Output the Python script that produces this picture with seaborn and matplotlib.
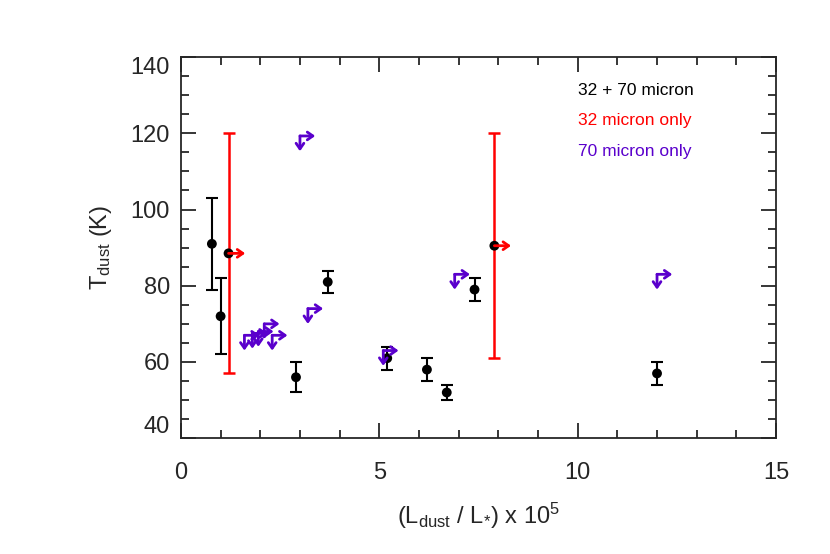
import matplotlib
matplotlib.use("Agg")
import matplotlib.pyplot as plt
import seaborn as sns
import pandas as pd

# 32 + 70 micron detections
both_L = [0.78, 1.0, 2.9, 3.7, 5.2, 6.2, 6.7, 7.4, 12.0]
both_T = [91, 72, 56, 81, 61, 58, 52, 79, 57]
both_err = [12, 10, 4, 3, 3, 3, 2, 3, 3]

# 32 micron only (lower limit on L)
red_L = [1.2, 7.9]
red_T = [88.5, 90.5]
red_err = [31.5, 29.5]

# 70 micron only (lower limit on L, upper limit on T)
pur_L = [1.6, 1.8, 1.95, 2.1, 2.3, 3.0, 3.2, 5.1, 6.9, 12.0]
pur_T = [67, 67.5, 68, 70, 67, 119.3, 74, 63, 83, 83]

legend_labels = ["32 + 70 micron", "32 micron only", "70 micron only"]
RED = "#ff0000"
PURPLE = "#5a00cc"

sns.set_style("ticks")
plt.rcParams['font.family'] = ['Liberation Sans', 'DejaVu Sans']
plt.rcParams['mathtext.fontset'] = 'custom'
plt.rcParams['mathtext.rm'] = 'Liberation Sans'
plt.rcParams['mathtext.it'] = 'Liberation Sans'

fig = plt.figure(figsize=(8.3, 5.54), dpi=100)
ax = fig.add_axes([0.218, 0.209, 0.717, 0.688])

df = pd.DataFrame({"L": both_L, "T": both_T})
ax.errorbar(both_L, both_T, yerr=both_err, fmt="none", ecolor="black",
            elinewidth=1.5, capsize=4, capthick=1.5, zorder=2)
sns.scatterplot(data=df, x="L", y="T", color="black", s=50, edgecolor="none",
                ax=ax, zorder=3)

ax.errorbar(red_L, red_T, yerr=red_err, fmt="none", ecolor=RED,
            elinewidth=1.8, capsize=4, capthick=1.8, zorder=2)
ax.scatter(red_L, red_T, color="black", s=50, edgecolor="none", zorder=3)
for x, y in zip(red_L, red_T):
    ax.annotate("", xy=(x, y), xytext=(12, 0), textcoords="offset points",
                arrowprops=dict(arrowstyle="<-,head_length=0.4,head_width=0.28",
                                color=RED, lw=2, shrinkA=0, shrinkB=0))

for x, y in zip(pur_L, pur_T):
    for dx, dy in [(11, 0), (0, -11)]:
        ax.annotate("", xy=(x, y), xytext=(dx, dy), textcoords="offset points",
                    arrowprops=dict(arrowstyle="<-,head_length=0.4,head_width=0.28",
                                    color=PURPLE, lw=2, shrinkA=0, shrinkB=0))

for i, (lab, c) in enumerate(zip(legend_labels, ["black", RED, PURPLE])):
    ax.text(0.667, 0.913 - i * 0.08, lab, color=c, fontsize=12.5,
            transform=ax.transAxes, ha="left", va="center")

ax.set_xlim(0, 15)
ax.set_ylim(40, 140)
ax.set_xticks([0, 5, 10, 15])
ax.set_xticks(range(0, 16), minor=True)
ax.set_yticks(range(40, 141, 20))
ax.set_yticks(range(40, 141, 5), minor=True)
ax.tick_params(which="both", direction="in", top=True, right=True,
               labelsize=17, width=1.3)
ax.tick_params(axis="x", which="major", pad=17)
ax.tick_params(axis="y", which="major", pad=8)
ax.tick_params(which="major", length=11)
ax.tick_params(which="minor", length=6)
ylabs = ax.get_yticklabels()
ylabs[0].set_va("bottom")
ylabs[-1].set_va("top")
for s in ax.spines.values():
    s.set_linewidth(1.3)

ax.set_xlabel(r"(L$_{\rm dust}$ / L$_{*}$) x 10$^{5}$", fontsize=17, labelpad=12)
ax.set_ylabel(r"T$_{\rm dust}$ (K)", fontsize=17, labelpad=12)

fig.savefig("out.png", dpi=100)
